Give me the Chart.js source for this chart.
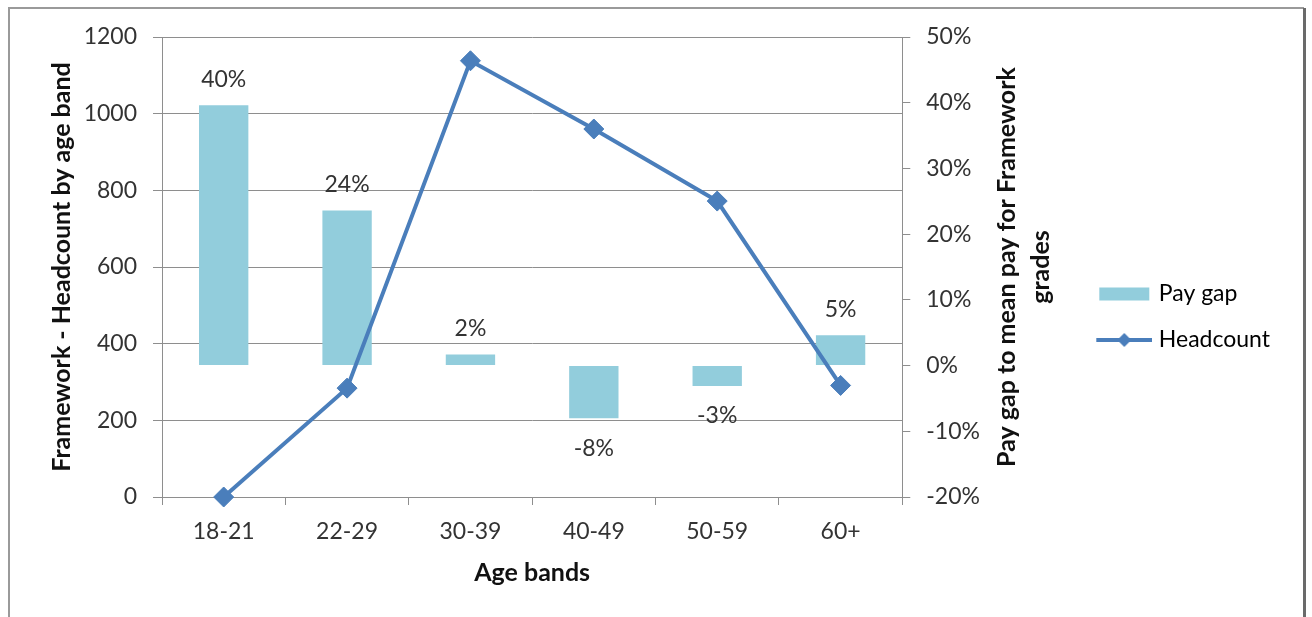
<!DOCTYPE html>
<html><head><meta charset="utf-8">
<script src="https://cdn.jsdelivr.net/npm/chart.js@4.4.1/dist/chart.umd.min.js"></script>
<style>html,body{margin:0;padding:0;background:#fff;overflow:hidden;} canvas{display:block;}</style>
</head><body>
<canvas id="c" width="1312" height="617"></canvas>
<script>
// ---- data ----
const categories = ['18-21', '22-29', '30-39', '40-49', '50-59', '60+'];
const payGap = [39.6, 23.6, 1.7, -8.0, -3.1, 4.6];       // % (right axis)
const headcount = [0, 284, 1138, 960, 772, 291];        // left axis
const seriesNames = ['Pay gap', 'Headcount'];
const leftAxisRange = [0, 1200, 200];
const rightAxisRange = [-20, 50, 10];
const leftTitle = 'Framework - Headcount by age band';
const rightTitle = ['Pay gap to mean pay for Framework', 'grades'];
const xTitle = 'Age bands';

// ---- style ----
const FONT = 'Lato';
const BAR_COLOR = '#92CDDC';
const LINE_COLOR = '#4A7EBB';
const GRID = '#8E8E8E';
const TEXT = '#333333';
const TITLE_SIZE = 25;

Chart.defaults.font.family = FONT;
Chart.defaults.font.size = 23;
Chart.defaults.color = TEXT;

function makeImg(w, h, draw) {
  const c = document.createElement('canvas');
  c.width = w; c.height = h;
  draw(c.getContext('2d'));
  return c;
}
const barImg = makeImg(61, 16, ctx => { ctx.fillStyle = BAR_COLOR; ctx.fillRect(8, 1.5, 50, 13); });
const lineImg = makeImg(61, 16, ctx => {
  ctx.strokeStyle = LINE_COLOR; ctx.lineWidth = 4;
  ctx.beginPath(); ctx.moveTo(5, 8); ctx.lineTo(61, 8); ctx.stroke();
  ctx.fillStyle = LINE_COLOR; ctx.beginPath();
  ctx.moveTo(33, 1); ctx.lineTo(40, 8); ctx.lineTo(33, 15); ctx.lineTo(26, 8); ctx.closePath(); ctx.fill();
});

const frame = {
  id: 'frame',
  beforeDraw(chart) {
    const ctx = chart.ctx;
    ctx.save();
    ctx.fillStyle = '#fff'; ctx.fillRect(0, 0, chart.width, chart.height);
    ctx.strokeStyle = '#9A9A9A'; ctx.lineWidth = 2;
    ctx.beginPath(); ctx.moveTo(9, 640); ctx.lineTo(9, 8); ctx.lineTo(1304, 8); ctx.stroke();
    ctx.strokeStyle = '#6A6A6A'; ctx.lineWidth = 3;
    ctx.beginPath(); ctx.moveTo(1304.5, 8); ctx.lineTo(1304.5, 640); ctx.stroke();
    ctx.restore();
  }
};

const barLabels = {
  id: 'barLabels',
  afterDatasetsDraw(chart) {
    const ctx = chart.ctx;
    const meta = chart.getDatasetMeta(0);
    const data = chart.data.datasets[0].data;
    ctx.save();
    ctx.font = '23px ' + FONT;
    ctx.fillStyle = TEXT;
    ctx.textAlign = 'center';
    ctx.textBaseline = 'middle';
    meta.data.forEach((el, i) => {
      const v = data[i];
      const y = v >= 0 ? el.y - 26 : el.y + 30;
      ctx.fillText(Math.round(v) + '%', el.x, y);
    });
    ctx.restore();
  }
};

const rightAxisTitle = {
  id: 'rightAxisTitle',
  afterDraw(chart) {
    const s = chart.scales.y1;
    const ca = chart.chartArea;
    const ctx = chart.ctx;
    const yc = (ca.top + ca.bottom) / 2;
    const xs = [s.left + 105, s.left + 139];
    ctx.save();
    ctx.font = 'bold ' + TITLE_SIZE + 'px ' + FONT;
    ctx.fillStyle = '#111';
    ctx.textAlign = 'center';
    ctx.textBaseline = 'middle';
    rightTitle.forEach((t, i) => {
      ctx.save();
      ctx.translate(xs[i], yc);
      ctx.rotate(-Math.PI / 2);
      ctx.fillText(t, 0, 0);
      ctx.restore();
    });
    ctx.restore();
  }
};

new Chart(document.getElementById('c'), {
  data: {
    labels: categories,
    datasets: [
      {
        type: 'bar', label: seriesNames[0], data: payGap, yAxisID: 'y1',
        backgroundColor: BAR_COLOR, borderWidth: 0,
        categoryPercentage: 1, barPercentage: 0.4, order: 2
      },
      {
        type: 'line', label: seriesNames[1], data: headcount, yAxisID: 'y',
        borderColor: LINE_COLOR, borderWidth: 4, tension: 0,
        pointStyle: 'rectRot', pointRadius: 10, pointHoverRadius: 10,
        pointBackgroundColor: LINE_COLOR, pointBorderColor: LINE_COLOR, pointBorderWidth: 1,
        clip: false, order: 1
      }
    ]
  },
  options: {
    responsive: false,
    animation: false,
    devicePixelRatio: 1,
    layout: { padding: { left: 30, top: 37, right: 32, bottom: 20 } },
    plugins: {
      tooltip: { enabled: false },
      legend: {
        position: 'right',
        labels: {
          usePointStyle: true,
          pointStyleWidth: 51,
          padding: 23,
          color: TEXT,
          font: { size: 23 },
          generateLabels() {
            return [
              { text: seriesNames[0], pointStyle: barImg, datasetIndex: 0, fillStyle: BAR_COLOR, strokeStyle: BAR_COLOR, lineWidth: 0, hidden: false },
              { text: seriesNames[1], pointStyle: lineImg, datasetIndex: 1, fillStyle: LINE_COLOR, strokeStyle: LINE_COLOR, lineWidth: 0, hidden: false }
            ];
          }
        }
      }
    },
    scales: {
      x: {
        type: 'category',
        offset: true,
        grid: { display: true, drawOnChartArea: false, drawTicks: true, tickLength: 8, offset: true, color: GRID },
        border: { display: true, color: GRID },
        ticks: { padding: 13, color: TEXT, font: { size: 23 }, maxRotation: 0 },
        title: { display: true, text: xTitle, color: '#111', font: { size: TITLE_SIZE, weight: 'bold' }, padding: { top: 0, bottom: 9 } },
        afterFit(s) { s.height = 100; }
      },
      y: {
        position: 'left',
        min: leftAxisRange[0], max: leftAxisRange[1],
        ticks: { stepSize: leftAxisRange[2], padding: 16, color: TEXT, font: { size: 23 }, callback: v => String(v) },
        grid: { color: GRID, tickLength: 9, drawTicks: true },
        border: { display: true, color: GRID },
        title: { display: true, text: leftTitle, color: '#111', font: { size: TITLE_SIZE, weight: 'bold' }, padding: { top: 17, bottom: 0 } },
        afterFit(s) { s.width = 132; }
      },
      y1: {
        position: 'right',
        min: rightAxisRange[0], max: rightAxisRange[1],
        ticks: { stepSize: rightAxisRange[2], padding: 16, color: TEXT, font: { size: 23 }, callback: v => v + '%' },
        grid: { drawOnChartArea: false, drawTicks: true, tickLength: 8, color: GRID },
        border: { display: true, color: GRID },
        title: { display: false },
        afterFit(s) { s.width = 171; }
      }
    }
  },
  plugins: [frame, barLabels, rightAxisTitle]
});
</script>
</body></html>
